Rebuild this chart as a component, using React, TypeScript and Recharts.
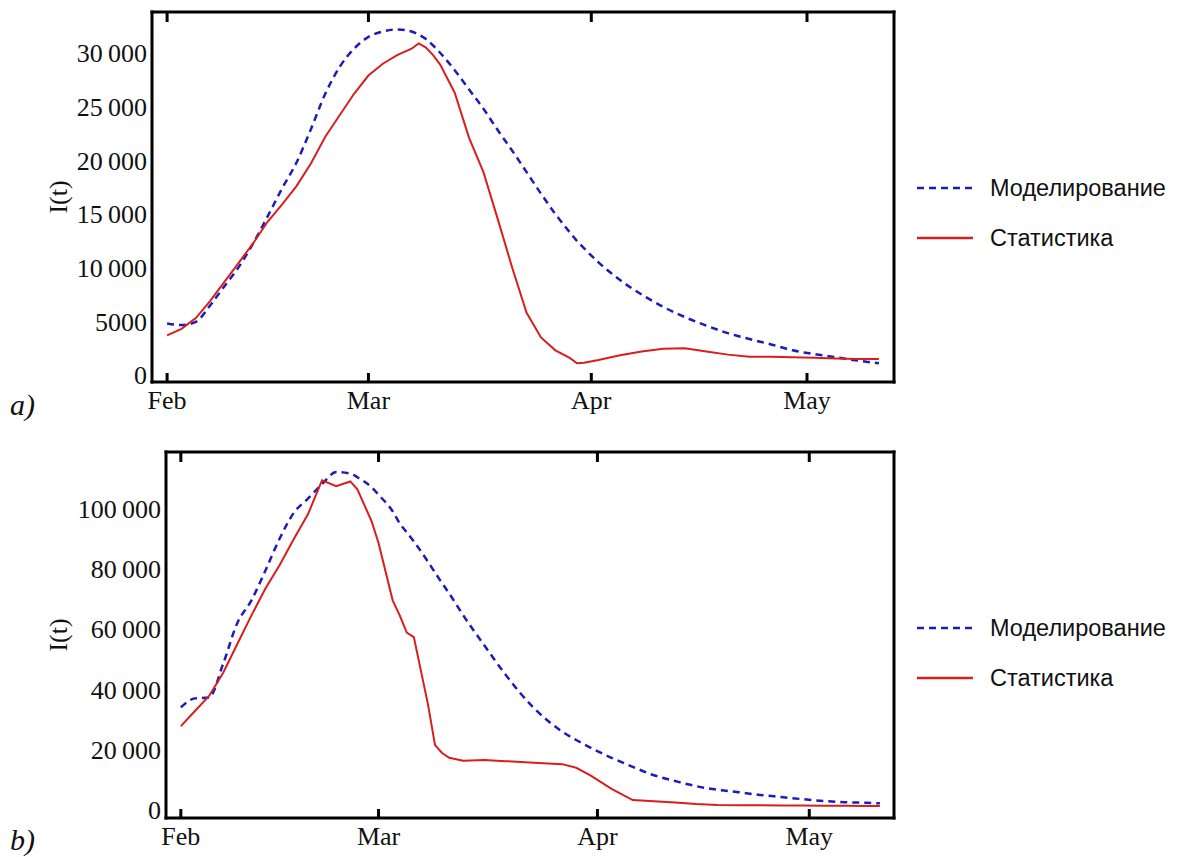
import React from 'react';
import { LineChart, Line, XAxis, YAxis, Legend } from 'recharts';

const SERIF = "'Liberation Serif', 'Times New Roman', serif";
const SANS = "'Liberation Sans', Arial, sans-serif";

// day 0 = 1 Feb
const MONTH_TICKS = [0, 28, 59, 89];
const MONTH_LABELS = ['Feb', 'Mar', 'Apr', 'May'];

const MODEL_NAME = 'Моделирование';
const STATS_NAME = 'Статистика';

// panel a)
const DAYS_A = [0, 2, 4, 6, 8, 10, 12, 14, 16, 18, 20, 22, 24, 26, 28, 30, 32, 34, 35, 36, 37, 38, 40, 42, 44, 46, 48, 50, 52, 54, 56, 57, 58, 60, 63, 66, 69, 72, 75, 78, 81, 84, 87, 90, 93, 96, 99];
const MODEL_A = [4800, 4650, 4950, 6500, 8300, 10100, 12300, 14800, 17400, 19800, 22900, 26200, 28700, 30400, 31500, 32000, 32200, 32000, 31700, 31300, 30700, 30000, 28400, 26600, 24800, 22800, 20900, 18900, 16900, 15000, 13300, 12500, 11800, 10500, 8850, 7500, 6350, 5400, 4600, 3900, 3350, 2850, 2300, 1950, 1650, 1350, 1100];
const STATS_A = [3700, 4300, 5300, 6900, 8700, 10500, 12300, 14300, 15900, 17600, 19700, 22200, 24200, 26200, 27900, 29000, 29800, 30400, 30900, 30500, 29800, 28900, 26300, 22100, 18900, 14500, 10000, 5800, 3500, 2300, 1600, 1100, 1150, 1400, 1850, 2200, 2450, 2500, 2200, 1900, 1700, 1700, 1650, 1600, 1550, 1500, 1500];
const Y_TICKS_A = [0, 5000, 10000, 15000, 20000, 25000, 30000];

// panel b)
const DAYS_B = [0, 2, 4, 6, 8, 10, 12, 14, 16, 18, 20, 22, 24, 25, 27, 28, 30, 31, 32, 33, 35, 36, 37, 38, 40, 43, 46, 50, 54, 56, 58, 61, 64, 67, 70, 73, 76, 79, 82, 85, 88, 91, 94, 97, 99];
const MODEL_B = [34000, 37000, 37300, 48500, 62000, 69500, 79500, 90000, 98500, 103200, 108000, 112000, 111500, 110300, 107000, 104500, 99000, 95000, 92000, 89000, 82300, 78700, 75200, 71800, 64500, 54500, 44800, 33800, 26000, 23200, 20700, 17300, 14300, 11500, 9600, 7900, 6700, 5900, 5000, 4300, 3600, 3000, 2600, 2400, 2200];
const STATS_B = [27800, 32800, 37800, 45500, 55000, 64500, 73500, 81200, 89800, 98000, 109300, 107300, 108900, 106300, 95800, 88500, 69500, 64500, 58800, 57300, 35000, 21500, 18900, 17300, 16300, 16600, 16200, 15700, 15200, 14000, 11500, 7000, 3300, 2900, 2500, 2000, 1700, 1600, 1600, 1500, 1500, 1400, 1400, 1300, 1300];
const Y_TICKS_B = [0, 20000, 40000, 60000, 80000, 100000];

const BLUE = '#1c1cb8';
const RED = '#d81e1e';

const fmtY = (v: number) => {
  if (v < 10000) return String(v);
  const s = String(v);
  return s.slice(0, s.length - 3) + '\u2009' + s.slice(-3);
};

const fmtMonth = (v: number) => MONTH_LABELS[MONTH_TICKS.indexOf(v)] ?? '';
const noLabel = () => '';

const frameLine = { stroke: '#000', strokeWidth: 3, strokeLinecap: 'square' as const };
const frameTick = { stroke: '#000', strokeWidth: 3 };
const tickFont = { fontFamily: SERIF, fontSize: 26, fill: '#111' };

const renderLegend = (props: any) => (
  <div style={{ fontFamily: SANS, fontSize: 23.5, color: '#111' }}>
    {(props.payload || []).map((entry: any) => (
      <div key={entry.value} style={{ display: 'flex', alignItems: 'center', height: 50 }}>
        <svg width={56} height={6} style={{ marginRight: 17 }}>
          <line
            x1={0}
            y1={3}
            x2={56}
            y2={3}
            stroke={entry.color}
            strokeWidth={2.5}
            strokeDasharray={entry.payload?.strokeDasharray}
          />
        </svg>
        <span>{entry.value}</span>
      </div>
    ))}
  </div>
);

const YLabel = (props: any) => {
  const vb = props.viewBox || {};
  const cx = (vb.x ?? 0) + 58;
  const cy = (vb.y ?? 0) + (vb.height ?? 0) / 2;
  return (
    <text
      x={cx}
      y={cy}
      transform={`rotate(-90, ${cx}, ${cy})`}
      textAnchor="middle"
      dominantBaseline="central"
      fontFamily={SERIF}
      fontSize={26}
      fill="#111"
    >
      I(t)
    </text>
  );
};

interface PanelProps {
  top: number;
  height: number;
  plotLeft: number;
  days: number[];
  model: number[];
  stats: number[];
  yTicks: number[];
  yDomain: [number, number];
  xDomain: [number, number];
  bottomSpace: number;
}

const Panel: React.FC<PanelProps> = ({ top, height, plotLeft, days, model, stats, yTicks, yDomain, xDomain, bottomSpace }) => {
  const data = days.map((d, i) => ({ day: d, model: model[i], stats: stats[i] }));
  return (
    <div style={{ position: 'absolute', left: 0, top }}>
      <LineChart width={1184} height={height} data={data} margin={{ top: 11, right: 289, bottom: bottomSpace - 30, left: 0 }}>
        <XAxis
          dataKey="day"
          type="number"
          domain={xDomain}
          ticks={MONTH_TICKS}
          interval={0}
          tickFormatter={fmtMonth}
          allowDataOverflow
          axisLine={frameLine}
          tickLine={frameTick}
          tickSize={-9}
          tickMargin={18}
          height={30}
          tick={tickFont}
        />
        {/* top frame edge with inward ticks */}
        <XAxis
          xAxisId="top"
          dataKey="day"
          type="number"
          orientation="top"
          domain={xDomain}
          ticks={MONTH_TICKS}
          interval={0}
          tickFormatter={noLabel}
          allowDataOverflow
          axisLine={frameLine}
          tickLine={frameTick}
          tickSize={-10}
          height={1}
        />
        <YAxis
          type="number"
          domain={yDomain}
          ticks={yTicks}
          interval={0}
          allowDataOverflow
          tickFormatter={fmtY}
          axisLine={frameLine}
          tickLine={false}
          tickSize={0}
          tickMargin={5}
          width={plotLeft}
          tick={tickFont}
          label={YLabel}
        />
        {/* right frame edge */}
        <YAxis
          yAxisId="right"
          type="number"
          orientation="right"
          domain={yDomain}
          ticks={yTicks}
          allowDataOverflow
          width={1}
          tickFormatter={noLabel}
          tickLine={false}
          axisLine={frameLine}
        />
        <Legend
          layout="vertical"
          align="center"
          verticalAlign="middle"
          content={renderLegend}
          wrapperStyle={{ left: 917, top: 163, width: 260 }}
        />
        <Line
          name={MODEL_NAME}
          dataKey="model"
          xAxisId="top"
          yAxisId="right"
          type="monotone"
          stroke={BLUE}
          strokeWidth={2.5}
          strokeDasharray="7 5"
          dot={false}
          isAnimationActive={false}
        />
        <Line
          name={STATS_NAME}
          dataKey="stats"
          type="linear"
          stroke={RED}
          strokeWidth={2}
          dot={false}
          isAnimationActive={false}
        />
      </LineChart>
    </div>
  );
};

const letterStyle: React.CSSProperties = {
  position: 'absolute',
  left: 10,
  fontFamily: SERIF,
  fontStyle: 'italic',
  fontSize: 30,
  lineHeight: 1,
  color: '#111',
};

export default function App() {
  return (
    <div style={{ position: 'absolute', left: 0, top: 0, width: 1184, height: 857, background: '#fff' }}>
      <Panel
        top={0}
        height={420}
        plotLeft={152}
        days={DAYS_A}
        model={MODEL_A}
        stats={STATS_A}
        yTicks={Y_TICKS_A}
        yDomain={[-650, 33820]}
        xDomain={[-2.1, 101.1]}
        bottomSpace={38}
      />
      <Panel
        top={440}
        height={417}
        plotLeft={166}
        days={DAYS_B}
        model={MODEL_B}
        stats={STATS_B}
        yTicks={Y_TICKS_B}
        yDomain={[-2650, 118660]}
        xDomain={[-2.1, 101]}
        bottomSpace={39}
      />
      <span style={{ ...letterStyle, top: 390 }}>a)</span>
      <span style={{ ...letterStyle, top: 825 }}>b)</span>
    </div>
  );
}
